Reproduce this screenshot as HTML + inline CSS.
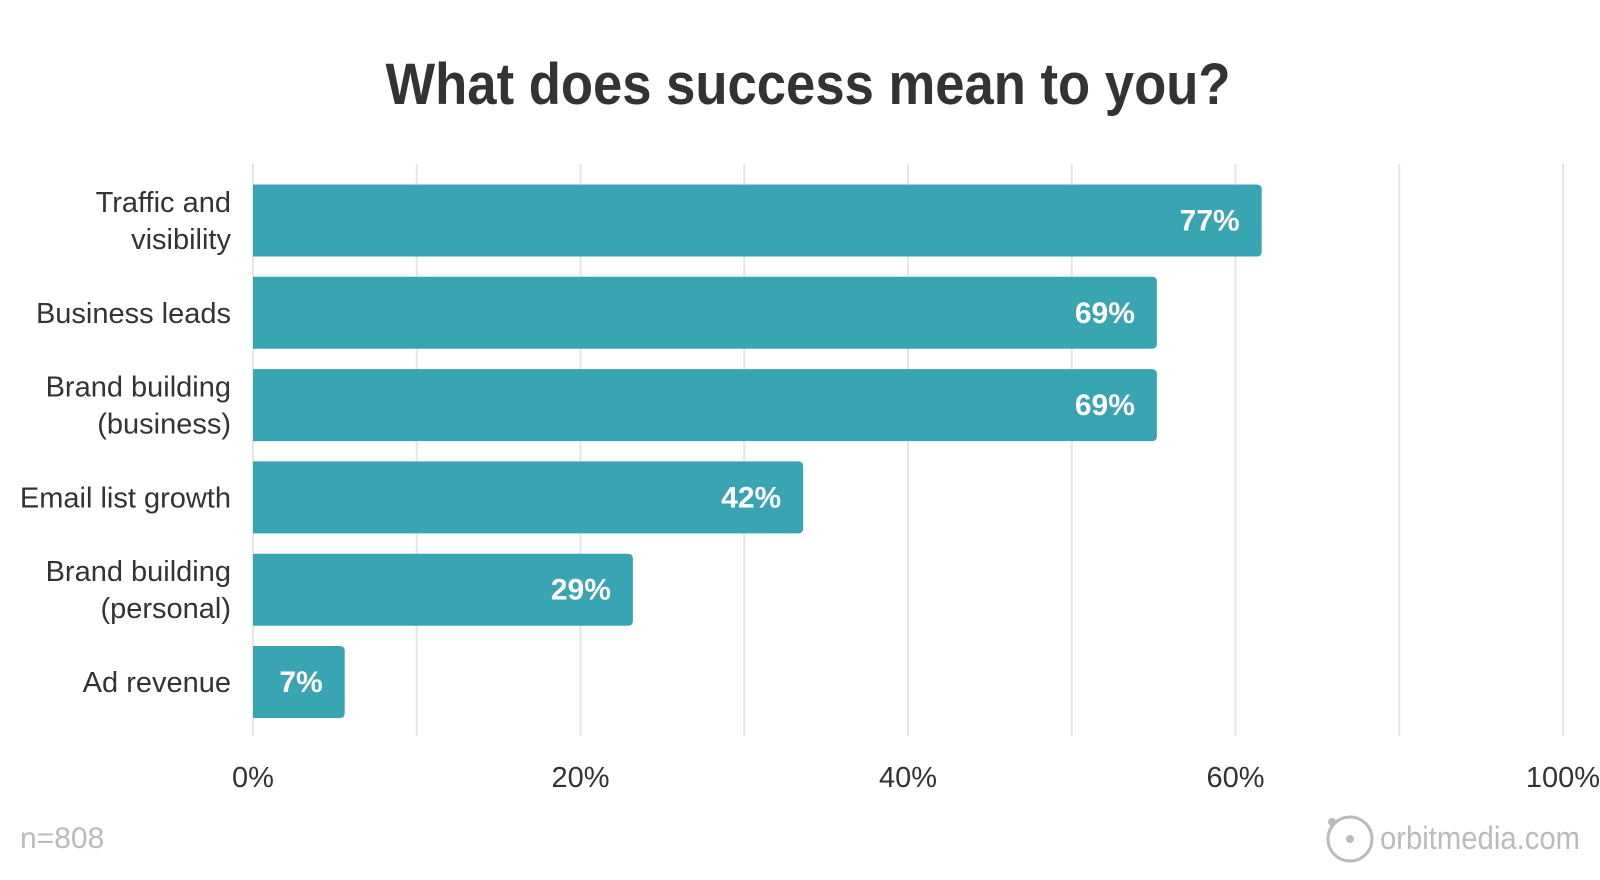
<!DOCTYPE html>
<html><head><meta charset="utf-8">
<style>
body{margin:0;background:#fff;}
svg{display:block;font-family:"Liberation Sans Narrow","Liberation Sans",sans-serif;}
</style></head>
<body>
<svg id="chart" width="1600" height="880" viewBox="0 0 1600 880" xmlns="http://www.w3.org/2000/svg">
<text x="808" y="104" text-anchor="middle" font-size="58" font-weight="bold" fill="#333" textLength="845" lengthAdjust="spacingAndGlyphs">What does success mean to you?</text>
<g id="grid"></g>
<g id="bars"></g>
<g id="ticks"></g>
<text x="20" y="848" font-size="30" fill="#bbb">n=808</text>
<g>
<circle cx="1350" cy="839" r="22" fill="none" stroke="#bbb" stroke-width="3"/>
<circle cx="1350" cy="839" r="4" fill="#bbb"/>
<circle cx="1332" cy="822" r="4" fill="#bbb"/>
<text x="1580" y="849" text-anchor="end" font-size="32" fill="#bbb" textLength="200" lengthAdjust="spacingAndGlyphs">orbitmedia.com</text>
</g>
</svg>
<script>
const categories=["Traffic and|visibility","Business leads","Brand building|(business)","Email list growth","Brand building|(personal)","Ad revenue"];
const values=[77,69,69,42,29,7];
const valueLabels=["77%","69%","69%","42%","29%","7%"];
const tickValues=[0,25,50,75,100];
const tickLabels=["0%","20%","40%","60%","100%"];
const gridValues=[0,12.5,25,37.5,50,62.5,75,87.5,100];
const NS="http://www.w3.org/2000/svg";
const x0=253,x1=1563,top0=184.5,pitch=92.3,bh=72;
const xs=v=>x0+(v/100)*(x1-x0);
const ys=i=>top0+i*pitch;
function mk(t,a,p){const e=document.createElementNS(NS,t);for(const k in a)e.setAttribute(k,a[k]);p.appendChild(e);return e;}
const g=document.getElementById('grid'),b=document.getElementById('bars'),tk=document.getElementById('ticks');
gridValues.forEach(v=>{const l=mk('line',{x1:xs(v),x2:xs(v),y1:164,y2:736,stroke:'#e6e6e6','stroke-width':2},g);

});
tickValues.forEach((v,i)=>{const t=mk('text',{x:xs(v),y:787,'text-anchor':'middle','font-size':29,fill:'#333'},tk);t.textContent=tickLabels[i];

});
values.forEach((v,i)=>{
 const y=ys(i),w=xs(v)-x0;
 const p=mk('path',{d:`M${x0},${y}H${x0+w-5}Q${x0+w},${y} ${x0+w},${y+5}V${y+bh-5}Q${x0+w},${y+bh} ${x0+w-5},${y+bh}H${x0}Z`,fill:'#3aa5b2'},b);
 
 
 const t=mk('text',{x:x0+w-22,y:y+bh/2+10,'text-anchor':'end','font-size':30,'font-weight':'bold',fill:'#fff'},b);t.textContent=valueLabels[i];
 
 
 const lines=categories[i].split('|');
 lines.forEach((s,j)=>{const c=mk('text',{x:231,y:y+bh/2+10+(j-(lines.length-1)/2)*37,'text-anchor':'end','font-size':29,fill:'#333'},b);c.textContent=s;
 
 });
});
</script>
</body></html>
